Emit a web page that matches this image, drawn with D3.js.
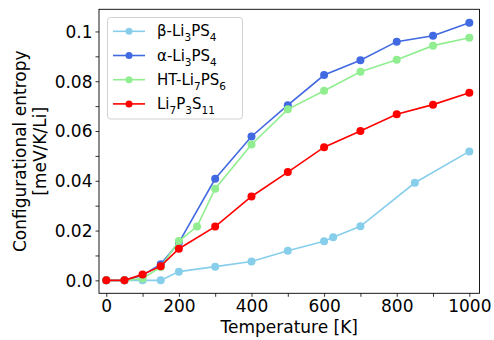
<!DOCTYPE html>
<html>
<head>
<meta charset="utf-8">
<script src="https://d3js.org/d3.v7.min.js"></script>
<style>
  body { margin: 0; background: #fff; }
  text { font-family: "DejaVu Sans", sans-serif; fill: #000; }
</style>
</head>
<body>
<svg id="chart" width="494" height="340"></svg>
<script>
// data
const seriesNames = ["β-Li_3PS_4", "α-Li_3PS_4", "HT-Li_7PS_6", "Li_7P_3S_11"];
const seriesColors = ["#87ceeb", "#4169e1", "#90ee90", "#ff0000"];

const betaT = [0, 50, 100, 150, 200, 300, 400, 500, 600, 625, 700, 850, 1000];
const betaS = [0, 0, 0, 0, 0.0035, 0.0055, 0.0076, 0.0119, 0.0157, 0.0173, 0.0217, 0.0392, 0.0518];

const alphaT = [0, 50, 100, 150, 200, 300, 400, 500, 600, 700, 800, 900, 1000];
const alphaS = [0, 0, 0.002, 0.0065, 0.0152, 0.0408, 0.0578, 0.0704, 0.0825, 0.0884, 0.0959, 0.0983, 0.1035];

const htT = [0, 50, 100, 150, 200, 250, 300, 400, 500, 600, 700, 800, 900, 1000];
const htS = [0, 0, 0.0007, 0.0054, 0.0158, 0.0216, 0.0368, 0.0546, 0.0687, 0.0762, 0.0838, 0.0886, 0.0943, 0.0975];

const li7T = [0, 50, 100, 150, 200, 300, 400, 500, 600, 700, 800, 900, 1000];
const li7S = [0, 0, 0.0024, 0.0057, 0.0127, 0.0216, 0.0337, 0.0435, 0.0535, 0.0600, 0.0667, 0.0706, 0.0754];

const xTicks = [0, 100, 200, 300, 400, 500, 600, 700, 800, 900, 1000];
const xTickLabels = ["0", "", "200", "", "400", "", "600", "", "800", "", "1000"];
const yTicks = [0, 0.01, 0.02, 0.03, 0.04, 0.05, 0.06, 0.07, 0.08, 0.09, 0.1];
const yTickLabels = ["0.0", "", "0.02", "", "0.04", "", "0.06", "", "0.08", "", "0.1"];

const allT = [betaT, alphaT, htT, li7T];
const allS = [betaS, alphaS, htS, li7S];

var mLeft = 99, mRight = 479.5, mTop = 9.3, mBottom = 293.3;

var svg = d3.select("#chart");

var x = d3.scaleLinear().domain([-20, 1028]).range([mLeft, mRight]);
var y = d3.scaleLinear().domain([-0.0052, 0.1089]).range([mBottom, mTop]);

// axes
var xAxis = svg.append("g")
    .attr("transform", "translate(0," + mBottom + ")")
    .call(d3.axisBottom(x).tickValues(xTicks).tickSize(3.5).tickPadding(3)
        .tickFormat(function(d, i) { return xTickLabels[i]; }));
var yAxis = svg.append("g")
    .attr("transform", "translate(" + mLeft + ",0)")
    .call(d3.axisLeft(y).tickValues(yTicks).tickSize(3.5).tickPadding(3)
        .tickFormat(function(d, i) { return yTickLabels[i]; }));

[xAxis, yAxis].forEach(function(a) {
    a.select(".domain").remove();
    a.selectAll("line").attr("stroke", "#000").attr("stroke-width", 0.8);
    a.selectAll("text").style("font-size", "17px").attr("fill", "#000");
});
yAxis.selectAll("text").attr("dy", "0.35em");

// frame
svg.append("rect")
    .attr("x", mLeft).attr("y", mTop)
    .attr("width", mRight - mLeft).attr("height", mBottom - mTop)
    .attr("fill", "none").attr("stroke", "#000").attr("stroke-width", 0.9);

// series
var line = d3.line()
    .x(function(d) { return x(d[0]); })
    .y(function(d) { return y(d[1]); });

seriesNames.forEach(function(name, k) {
    var pts = allT[k].map(function(t, i) { return [t, allS[k][i]]; });
    var g = svg.append("g");
    g.append("path")
        .datum(pts)
        .attr("d", line)
        .attr("fill", "none")
        .attr("stroke", seriesColors[k])
        .attr("stroke-width", 1.6);
    g.selectAll("circle")
        .data(pts)
        .enter()
        .append("circle")
        .attr("cx", function(d) { return x(d[0]); })
        .attr("cy", function(d) { return y(d[1]); })
        .attr("r", 4)
        .attr("fill", seriesColors[k]);
});

// axis titles
svg.append("text")
    .attr("x", (mLeft + mRight) / 2).attr("y", 333)
    .attr("text-anchor", "middle")
    .style("font-size", "17px")
    .text("Temperature [K]");

var yl = svg.append("text")
    .attr("transform", "translate(26," + ((mTop + mBottom) / 2) + ") rotate(-90)")
    .attr("text-anchor", "middle")
    .style("font-size", "17px");
yl.append("tspan").attr("x", 0).attr("dy", 0).text("Configurational entropy");
yl.append("tspan").attr("x", 0).attr("dy", 20).text("[meV/K/Li]");

// legend
var lg = svg.append("g");
lg.append("rect")
    .attr("x", 107.5).attr("y", 17.5)
    .attr("width", 135).attr("height", 101.5)
    .attr("rx", 3)
    .attr("fill", "#fff").attr("fill-opacity", 0.8)
    .attr("stroke", "#cccccc").attr("stroke-width", 0.9);

seriesNames.forEach(function(name, k) {
    var ry = 31.3 + k * 24.2;
    lg.append("line")
        .attr("x1", 113).attr("x2", 145)
        .attr("y1", ry).attr("y2", ry)
        .attr("stroke", seriesColors[k]).attr("stroke-width", 1.6);
    lg.append("circle")
        .attr("cx", 129).attr("cy", ry).attr("r", 3.5)
        .attr("fill", seriesColors[k]);
    var t = lg.append("text")
        .attr("x", 157).attr("y", ry + 5)
        .style("font-size", "15px");
    // split into normal text and subscripts (after "_")
    var parts = name.split(/_(\d+)/);
    parts.forEach(function(p, i) {
        if (p === "") return;
        if (i % 2 === 1) {
            t.append("tspan").attr("dy", 5).style("font-size", "10.5px").text(p);
        } else {
            t.append("tspan").attr("dy", i === 0 ? 0 : -5).text(p);
        }
    });
});
</script>
</body>
</html>
